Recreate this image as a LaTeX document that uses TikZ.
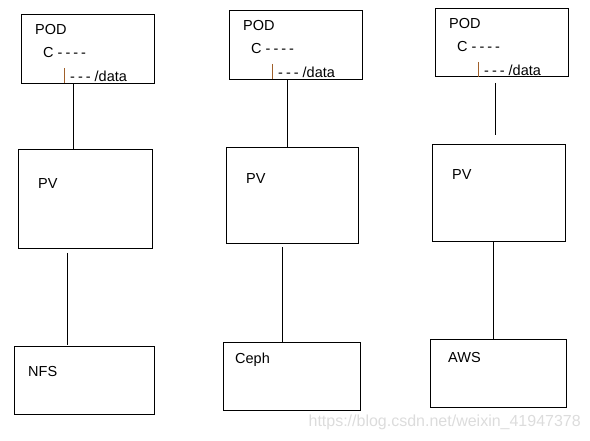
\documentclass[tikz,border=0pt]{standalone}
\usepackage{fontspec}
\setmainfont{Liberation Sans}
\usepackage{xcolor}
\usetikzlibrary{calc}
\definecolor{StoreLine}{HTML}{000000}
\definecolor{StoreBar}{HTML}{A0602A}
\definecolor{StoreMark}{HTML}{DCDCDC}
% a plain hyphen, kept apart from the next one
\newcommand{\stdash}{-\kern3pt}

\begin{document}
\begin{tikzpicture}[x=1pt,y=-1pt,
    box/.style 2 args={draw=StoreLine,line width=1pt,minimum width=#1pt,
      minimum height=#2pt,inner sep=0pt,outer sep=0pt},
    txt/.style={anchor=west,inner sep=0pt,font=\fontsize{14.5}{16}\selectfont},
    link/.style={StoreLine,line width=1pt}]
        \useasboundingbox (0,0) rectangle (590,441);

        % pods
        \node[box={133}{69}] (pod1) at (87.5,49.5) {};
        \node[box={133}{69}] (pod2) at (295.5,45.5) {};
        \node[box={133}{68}] (pod3) at (501.5,43) {};
        \foreach \p in {pod1,pod2,pod3} {
          \node[txt] (\p name) at ($(\p.north west)+(14,15)$) {POD};
          \node[txt] (\p c) at ($(\p.north west)+(22,38)$) {C \stdash\stdash\stdash-};
          \draw[StoreBar,line width=1.4pt]
            ($(\p.north west)+(43.5,53)$) -- ($(\p.north west)+(43.5,68)$);
          \node[txt] (\p data) at ($(\p.north west)+(49,61)$) {\stdash\stdash- /data};
        }

        % volumes
        \node[box={134}{99}] (pv1) at (85,199.5) {};
        \node[box={132}{96}] (pv2) at (292,196) {};
        \node[box={133}{97}] (pv3) at (498.5,193.5) {};
        \node[txt] (pv1name) at ($(pv1.north west)+(20,34)$) {PV};
        \node[txt] (pv2name) at ($(pv2.north west)+(20,31)$) {PV};
        \node[txt] (pv3name) at ($(pv3.north west)+(20,30)$) {PV};

        % backends
        \node[box={140}{67}] (nfs) at (84,380.5) {};
        \node[box={137}{67}] (ceph) at (291.5,376.5) {};
        \node[box={136}{67}] (aws) at (498,373.5) {};
        \node[txt] (nfsname) at ($(nfs.north west)+(14,25)$) {NFS};
        \node[txt] (cephname) at ($(ceph.north west)+(12,17)$) {Ceph};
        \node[txt] (awsname) at ($(aws.north west)+(18,18)$) {AWS};

        \coordinate (col1) at (73,0);
        \coordinate (col1b) at (67,0);
        \coordinate (col2) at (287,0);
        \coordinate (col2b) at (282,0);
        \coordinate (col3) at (495,0);
        \coordinate (col3b) at (493,0);
        \draw[link] (pod1.south -| col1) -- (pv1.north -| col1);
        \draw[link,shorten <=4pt,shorten >=2pt] (pv1.south -| col1b) -- (nfs.north -| col1b);
        \draw[link] (pod2.south -| col2) -- (pv2.north -| col2);
        \draw[link,shorten <=3pt] (pv2.south -| col2b) -- (ceph.north -| col2b);
        \draw[link,shorten <=6pt,shorten >=10pt] (pod3.south -| col3) -- (pv3.north -| col3);
        \draw[link] (pv3.south -| col3b) -- (aws.north -| col3b);

        \node[anchor=east,inner sep=0pt,text=StoreMark,
          font=\fontsize{16}{18}\selectfont] (mark) at (581,422) {https://blog.csdn.net/weixin\_41947378};
      \end{tikzpicture}
\end{document}
